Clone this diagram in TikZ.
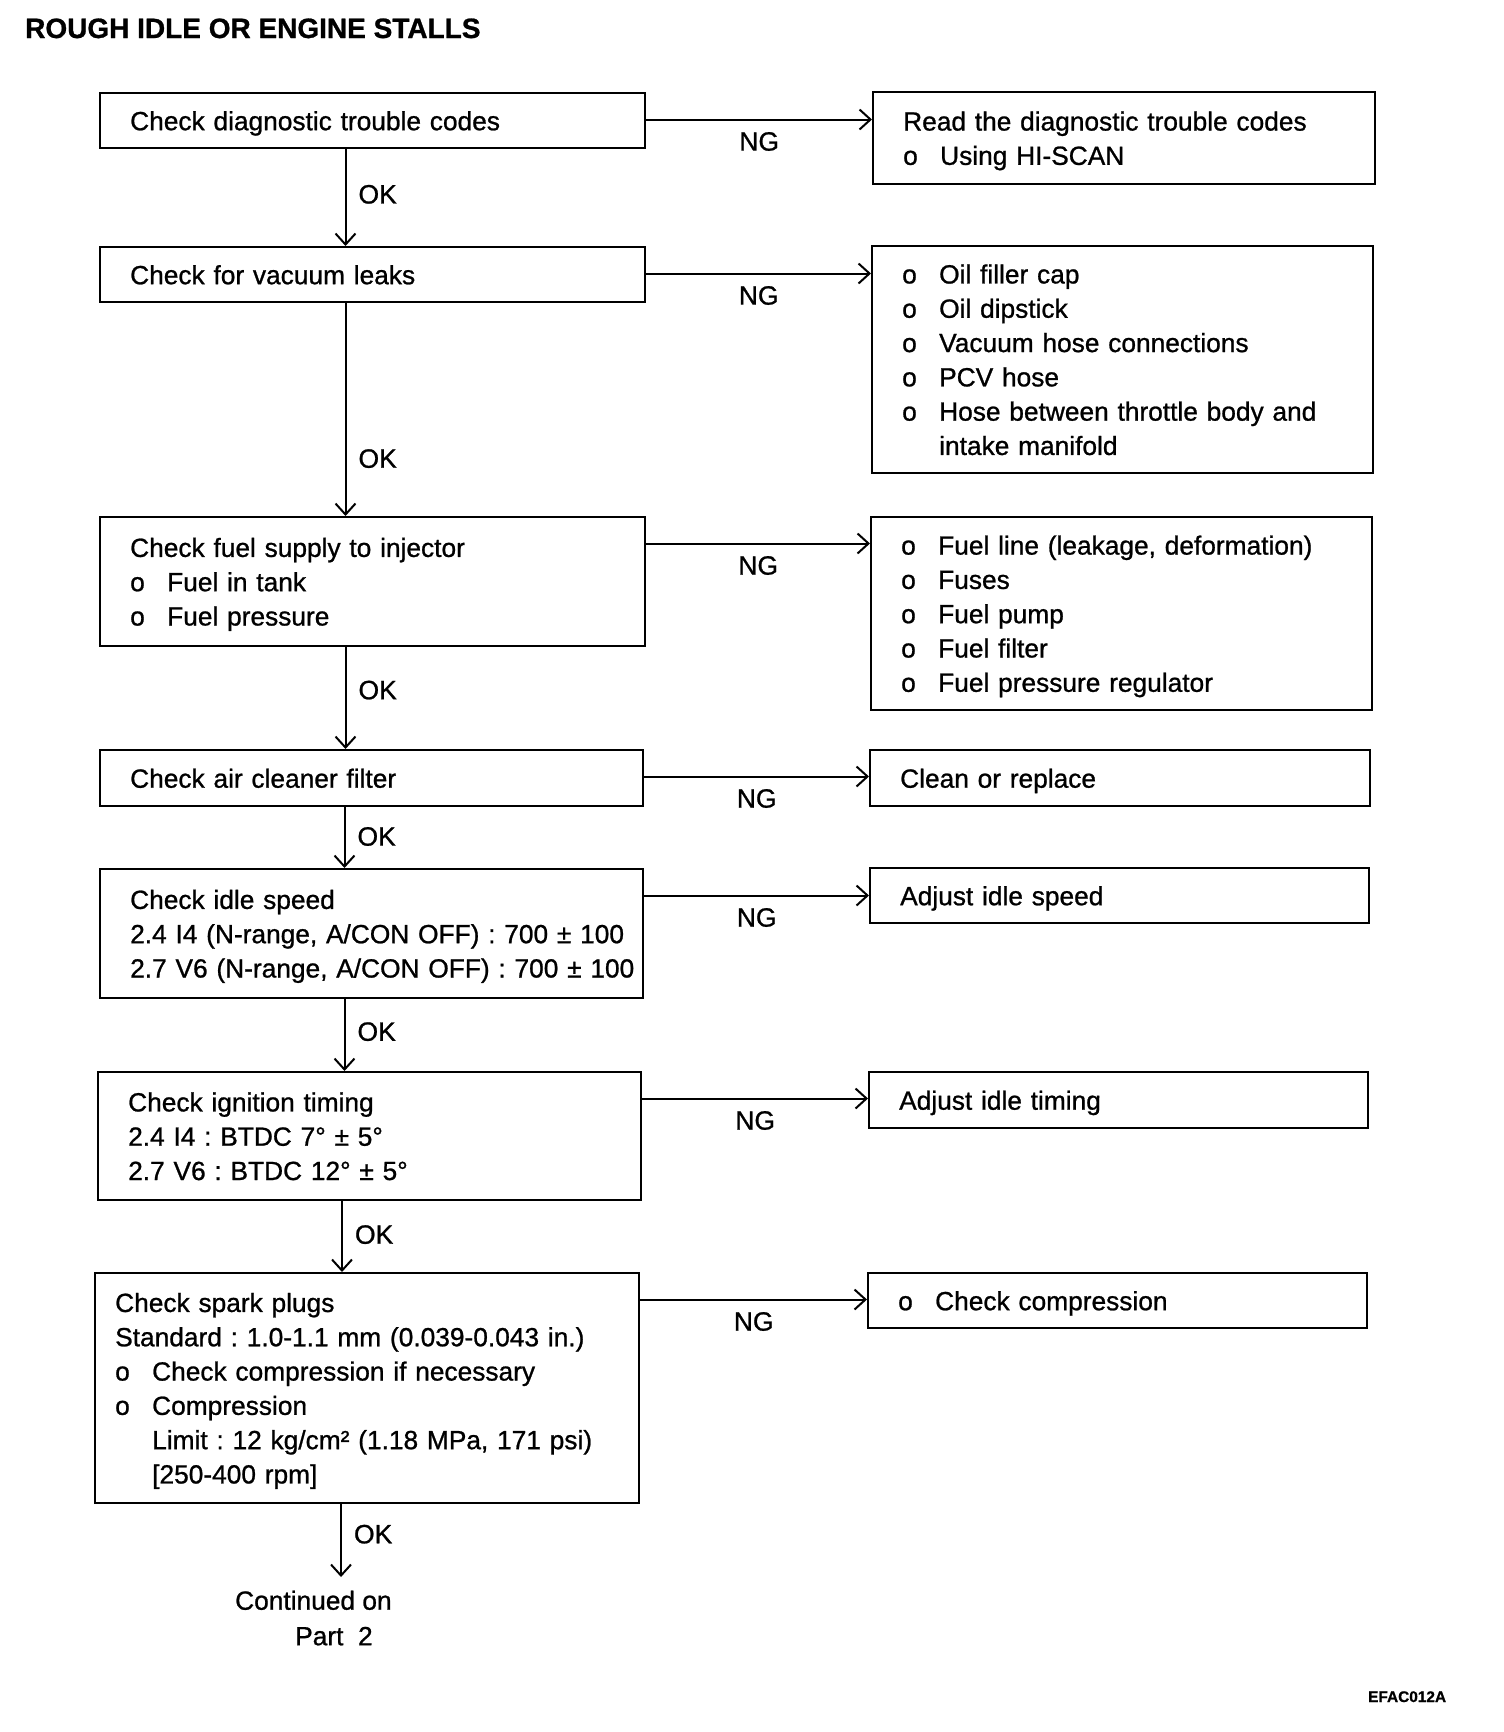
\documentclass[tikz,border=0pt]{standalone}
\usepackage{fontspec}
\usepackage{graphicx}
\setmainfont{Liberation Sans}[FakeBold=0.9]
\usetikzlibrary{arrows.meta,calc}
\setlength{\parindent}{0pt}
\frenchspacing
\newcommand{\sst}{\rule[-7pt]{0pt}{33pt}}
\newcommand{\bitem}{\makebox[37pt][l]{o}}
\newcommand{\indt}{\hspace*{37pt}}
\begin{document}
\begin{tikzpicture}[x=1pt,y=-1pt]
\tikzset{
  box/.style={draw, line width=2.4pt, rectangle, align=left, inner ysep=0pt, inner xsep=30pt, anchor=north west, font=\fontsize{26.3pt}{34.3pt}\selectfont\frenchspacing},
  arr/.style={line width=2pt, -{Straight Barb[length=11pt,width=20pt]}},
  lbl/.style={inner sep=0pt, font=\fontsize{26.5pt}{26.5pt}\selectfont},
}
\fill[white] (0,0) rectangle (1504,1732);
\useasboundingbox (0,0) rectangle (1504,1732);

\node[anchor=base west, inner sep=0pt, font=\bfseries\fontsize{28pt}{28pt}\selectfont] (title) at (25,38) {ROUGH IDLE OR ENGINE STALLS};

% left column
\node[box, text width=485pt, minimum height=55pt] (b1) at (99,92) {\sst Check diagnostic trouble codes};
\node[box, text width=485pt, minimum height=55pt] (b2) at (99,246) {\sst Check for vacuum leaks};
\node[box, text width=485pt, minimum height=129pt] (b3) at (99,516) {\sst Check fuel supply to injector\\ \bitem Fuel in tank\\ \bitem Fuel pressure\sst};
\node[box, text width=483pt, minimum height=56pt] (b4) at (99,749) {\sst Check air cleaner filter};
\node[box, text width=483pt, minimum height=129pt] (b5) at (99,868) {\sst Check idle speed\\ \mbox{2.4 I4 (N-range, A/CON OFF) : 700 ± 100}\\ \mbox{2.7 V6 (N-range, A/CON OFF) : 700 ± 100}\sst};
\node[box, text width=483pt, minimum height=128pt] (b6) at (97,1071) {\sst Check ignition timing\\ 2.4 I4 : BTDC 7° ± 5°\\ 2.7 V6 : BTDC 12° ± 5°\sst};
\node[box, inner xsep=20pt, text width=504pt, minimum height=230pt] (b7) at (94,1272) {\sst Check spark plugs\\ \mbox{Standard : 1.0-1.1 mm (0.039-0.043 in.)}\\ \bitem Check compression if necessary\\ \bitem Compression\\ \indt Limit : 12 kg/cm² (1.18 MPa, 171 psi)\\ \indt [250-400 rpm]\sst};

% right column
\node[box, text width=442pt, minimum height=92pt] (r1) at (872,91) {\sst Read the diagnostic trouble codes\\ \bitem Using HI-SCAN\sst};
\node[box, text width=441pt, minimum height=227pt] (r2) at (871,245) {\sst\bitem Oil filler cap\\ \bitem Oil dipstick\\ \bitem Vacuum hose connections\\ \bitem PCV hose\\ \bitem Hose between throttle body and\\ \indt intake manifold\sst};
\node[box, text width=441pt, minimum height=193pt] (r3) at (870,516) {\sst\bitem Fuel line (leakage, deformation)\\ \bitem Fuses\\ \bitem Fuel pump\\ \bitem Fuel filter\\ \bitem Fuel pressure regulator\sst};
\node[box, text width=440pt, minimum height=56pt] (r4) at (869,749) {\sst Clean or replace};
\node[box, text width=439pt, minimum height=55pt] (r5) at (869,867) {\sst Adjust idle speed};
\node[box, text width=439pt, minimum height=56pt] (r6) at (868,1071) {\sst Adjust idle timing};
\node[box, text width=439pt, minimum height=55pt] (r7) at (867,1272) {\sst\bitem Check compression};

\node[lbl, anchor=north west, align=left, inner ysep=6.5pt, font=\fontsize{26.3pt}{35.5pt}\selectfont] (cont) at (235,1577) {\sst Continued on\\ \hspace*{60pt}Part\ \ 2\sst};

\node[anchor=base west, inner sep=0pt, font=\bfseries\fontsize{15.4pt}{15.4pt}\selectfont] (code) at (1368,1702) {EFAC012A};

% NG connectors
\foreach \a/\b in {b1/r1,b2/r2,b3/r3,b4/r4,b5/r5,b6/r6,b7/r7}{
  \draw[arr] ([yshift=-27.5pt]\a.north east) -- ([yshift=-27.5pt]\a.north east -| \b.west)
    node[lbl, midway, yshift=-22pt] {NG};
}

% OK connectors
\draw[arr] ([xshift=246.5pt]b1.south west) -- ([xshift=246.5pt]b1.south west |- b2.north) node[lbl, pos=0.465, anchor=west, xshift=12pt] {OK};
\draw[arr] ([xshift=246.5pt]b2.south west) -- ([xshift=246.5pt]b2.south west |- b3.north) node[lbl, pos=0.73, anchor=west, xshift=12pt] {OK};
\draw[arr] ([xshift=246.5pt]b3.south west) -- ([xshift=246.5pt]b3.south west |- b4.north) node[lbl, pos=0.42, anchor=west, xshift=12pt] {OK};
\draw[arr] ([xshift=245.5pt]b4.south west) -- ([xshift=245.5pt]b4.south west |- b5.north) node[lbl, pos=0.48, anchor=west, xshift=12pt] {OK};
\draw[arr] ([xshift=245.5pt]b5.south west) -- ([xshift=245.5pt]b5.south west |- b6.north) node[lbl, pos=0.45, anchor=west, xshift=12pt] {OK};
\draw[arr] ([xshift=245pt]b6.south west) -- ([xshift=245pt]b6.south west |- b7.north) node[lbl, pos=0.47, anchor=west, xshift=12pt] {OK};
\draw[arr] ([xshift=247pt]b7.south west) -- ([xshift=247pt]b7.south west |- cont.north) node[lbl, pos=0.41, anchor=west, xshift=12pt] {OK};
\end{tikzpicture}
\end{document}
